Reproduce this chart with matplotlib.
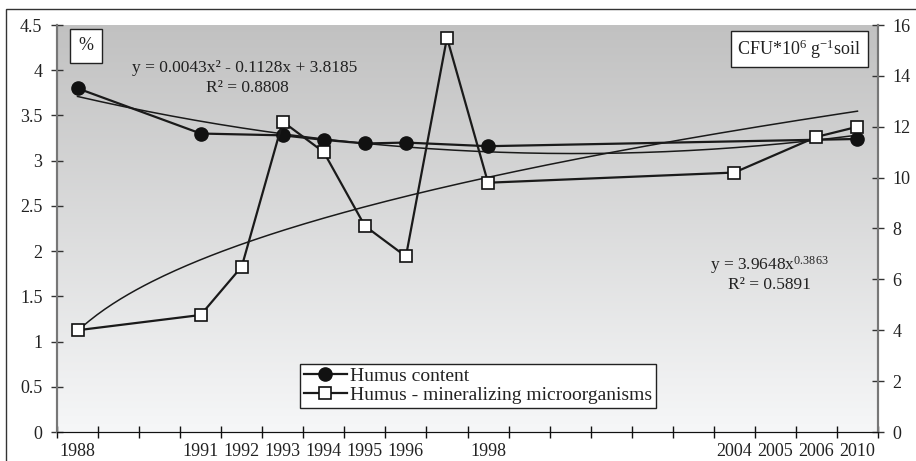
import numpy as np
import matplotlib
matplotlib.use('Agg')
import matplotlib.pyplot as plt
from matplotlib.patches import Rectangle

plt.rcParams['font.family'] = ['Liberation Serif', 'DejaVu Serif']
plt.rcParams['mathtext.fontset'] = 'custom'
plt.rcParams['mathtext.rm'] = 'Liberation Serif'
plt.rcParams['mathtext.it'] = 'Liberation Serif:italic'

# Categorias (posiciones 1..20) y etiquetas del eje x
categorias = list(range(1, 21))
etiquetas = {1: '1988', 4: '1991', 5: '1992', 6: '1993', 7: '1994', 8: '1995',
             9: '1996', 11: '1998', 17: '2004', 18: '2005', 19: '2006', 20: '2010'}

# Contenido de humus (%)
humus_x = [1, 4, 6, 7, 8, 9, 11, 20]
humus = [3.80, 3.30, 3.28, 3.23, 3.19, 3.20, 3.16, 3.24]

# Microorganismos mineralizadores (CFU*10^6 g-1 suelo)
micro_x = [1, 4, 5, 6, 7, 8, 9, 10, 11, 17, 19, 20]
micro = [4.0, 4.6, 6.5, 12.2, 11.0, 8.1, 6.9, 15.5, 9.8, 10.2, 11.6, 12.0]

# Lineas de tendencia (coeficientes mostrados en la grafica)
poli_coef = [0.0043, -0.1128, 3.8185]
pot_coef = [3.9648, 0.3863]

color_txt = '#222222'

fig = plt.figure(figsize=(9.16, 4.61), dpi=100)
ax = fig.add_axes([57/916, 1 - 432/461, (878 - 57)/916, (432 - 25)/461])
ax2 = ax.twinx()

# Fondo degradado
grad = np.linspace(0, 1, 256).reshape(-1, 1)
c_arriba = np.array([193, 193, 193]) / 255
c_abajo = np.array([246, 247, 248]) / 255
img = c_abajo + (c_arriba - c_abajo) * grad
img = img.reshape(256, 1, 3)
ax.imshow(img, extent=[0, 1, 0, 1], transform=ax.transAxes, aspect='auto',
          origin='lower', zorder=0)
ax.set_facecolor('none')
ax2.patch.set_visible(False)

# Tendencias
xt = np.linspace(1, 20, 200)
ax.plot(xt, np.polyval(poli_coef, xt), color='#1a1a1a', lw=1.1, zorder=2)
ax2.plot(xt, pot_coef[0] * xt ** pot_coef[1], color='#1a1a1a', lw=1.1, zorder=2)

# Series
l1, = ax.plot(humus_x, humus, color='#1a1a1a', lw=1.6, marker='o', ms=9.5,
              mfc='#111111', mec='#111111', zorder=3)
l2, = ax2.plot(micro_x, micro, color='#1a1a1a', lw=1.6, marker='s', ms=8.5,
               mfc='white', mec='#111111', mew=1.2, zorder=3)

ax.set_xlim(0.5, 20.5)
ax.set_ylim(0, 4.5)
ax2.set_ylim(0, 16)

ax.set_yticks(np.arange(0, 4.51, 0.5))
ax.set_yticklabels(['0', '0.5', '1', '1.5', '2', '2.5', '3', '3.5', '4', '4.5'])
ax2.set_yticks(np.arange(0, 17, 2))

ax.set_xticks(np.arange(0.5, 21, 1))
ax.set_xticklabels([])
ax.set_xticks(list(etiquetas.keys()), minor=True)
ax.set_xticklabels(list(etiquetas.values()), minor=True)
ax.tick_params(axis='x', which='major', direction='inout', length=9, width=1, color='#111111')
ax.tick_params(axis='x', which='minor', length=0, pad=8, labelsize=13, labelcolor=color_txt)
ax.tick_params(axis='y', direction='inout', length=9, width=1, color='#333333',
               labelsize=13, labelcolor=color_txt, pad=6)
ax2.tick_params(axis='y', direction='inout', length=9, width=1, color='#333333',
                labelsize=13, labelcolor=color_txt, pad=6)

for a in (ax, ax2):
    a.spines['top'].set_visible(False)
    a.spines['left'].set_color('#777777')
    a.spines['left'].set_linewidth(1.5)
    a.spines['right'].set_color('#777777')
    a.spines['right'].set_linewidth(1.5)
    a.spines['bottom'].set_color('#111111')

# Textos
fig.text(86/916, 1 - 46/461, '%', fontsize=13, color=color_txt, ha='center', va='center',
         bbox=dict(boxstyle='square,pad=0.45', fc='white', ec='#222222', lw=1))
ax.text(0.229, 0.894, 'y = 0.0043x² - 0.1128x + 3.8185', transform=ax.transAxes,
        fontsize=12.5, color=color_txt, ha='center', va='center')
ax.text(0.232, 0.845, 'R² = 0.8808', transform=ax.transAxes,
        fontsize=12.5, color=color_txt, ha='center', va='center')
ax.text(0.904, 0.941, 'CFU*10$^{6}$ g$^{-1}$soil', transform=ax.transAxes,
        fontsize=13, color=color_txt, ha='center', va='center',
        bbox=dict(boxstyle='square,pad=0.35', fc='white', ec='#222222', lw=1))
ax.text(0.868, 0.41, 'y = 3.9648x$^{0.3863}$', transform=ax.transAxes,
        fontsize=12.5, color=color_txt, ha='center', va='center')
ax.text(0.868, 0.361, 'R² = 0.5891', transform=ax.transAxes,
        fontsize=12.5, color=color_txt, ha='center', va='center')

leg = ax.legend([l1, l2], ['Humus content', 'Humus - mineralizing microorganisms'],
                loc='center', bbox_to_anchor=(0.513, 0.114), fontsize=14,
                frameon=True, fancybox=False, edgecolor='#222222', framealpha=1,
                borderpad=0.2, labelspacing=0.05, handlelength=2.2, handletextpad=0.2,
                borderaxespad=0)
leg.get_frame().set_linewidth(1)
for t in leg.get_texts():
    t.set_color(color_txt)

# Borde exterior
fig.patches.append(Rectangle((6/916, -0.1), 1.2, 1 - 9/461 + 0.1, transform=fig.transFigure,
                             fill=False, ec='#333333', lw=1))

fig.savefig('out.png', dpi=100)
